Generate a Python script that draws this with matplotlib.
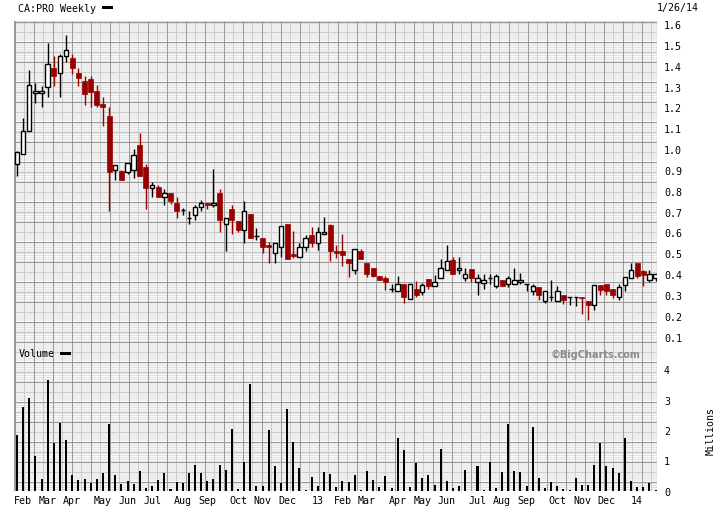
import numpy as np
import pandas as pd
import matplotlib
matplotlib.use("Agg")
import matplotlib.pyplot as plt
from matplotlib.patches import Rectangle

# ---------------- data ----------------
week_start = pd.date_range("2012-01-23", periods=105, freq="7D")

opens = [0.927, 0.975, 1.086, 1.268, 1.268, 1.296, 1.387, 1.363, 1.445, 1.435,
         1.364, 1.326, 1.336, 1.278, 1.215, 1.158, 0.900, 0.895, 0.890, 0.900,
         1.022, 0.916, 0.813, 0.816, 0.772, 0.791, 0.743, 0.708, 0.671, 0.685,
         0.724, 0.743, 0.733, 0.791, 0.642, 0.714, 0.654, 0.611, 0.687, 0.582,
         0.575, 0.542, 0.502, 0.531, 0.643, 0.499, 0.483, 0.531, 0.586, 0.550,
         0.594, 0.634, 0.513, 0.513, 0.475, 0.421, 0.513, 0.454, 0.432, 0.392,
         0.384, 0.331, 0.320, 0.355, 0.281, 0.331, 0.315, 0.379, 0.344, 0.382,
         0.421, 0.470, 0.421, 0.382, 0.427, 0.363, 0.358, 0.382, 0.342, 0.374,
         0.355, 0.355, 0.364, 0.355, 0.318, 0.339, 0.272, 0.292, 0.272, 0.300,
         0.292, 0.292, 0.292, 0.272, 0.253, 0.349, 0.353, 0.331, 0.291, 0.349,
         0.382, 0.454, 0.416, 0.373, 0.382]
highs = [0.990, 1.148, 1.379, 1.316, 1.305, 1.507, 1.445, 1.454, 1.547, 1.454,
         1.387, 1.351, 1.349, 1.307, 1.252, 1.204, 0.925, 0.900, 0.935, 1.002,
         1.076, 0.928, 0.842, 0.826, 0.807, 0.791, 0.772, 0.719, 0.704, 0.733,
         0.755, 0.743, 0.903, 0.807, 0.669, 0.733, 0.654, 0.752, 0.687, 0.623,
         0.575, 0.553, 0.550, 0.632, 0.643, 0.605, 0.552, 0.589, 0.624, 0.624,
         0.672, 0.643, 0.541, 0.594, 0.475, 0.522, 0.523, 0.454, 0.432, 0.392,
         0.392, 0.353, 0.392, 0.355, 0.353, 0.369, 0.356, 0.379, 0.397, 0.474,
         0.541, 0.483, 0.483, 0.430, 0.427, 0.403, 0.401, 0.401, 0.401, 0.374,
         0.393, 0.430, 0.406, 0.355, 0.355, 0.339, 0.320, 0.374, 0.345, 0.300,
         0.292, 0.292, 0.292, 0.272, 0.349, 0.349, 0.353, 0.331, 0.355, 0.387,
         0.454, 0.454, 0.422, 0.422, 0.401]
lows = [0.869, 0.975, 1.086, 1.220, 1.202, 1.250, 1.303, 1.250, 1.416, 1.361,
        1.303, 1.212, 1.202, 1.202, 1.111, 0.702, 0.851, 0.851, 0.880, 0.861,
        0.871, 0.714, 0.772, 0.770, 0.733, 0.739, 0.669, 0.683, 0.640, 0.659,
        0.704, 0.714, 0.724, 0.602, 0.510, 0.592, 0.602, 0.550, 0.573, 0.562,
        0.500, 0.452, 0.452, 0.481, 0.472, 0.480, 0.483, 0.510, 0.529, 0.518,
        0.594, 0.462, 0.478, 0.438, 0.385, 0.400, 0.474, 0.385, 0.385, 0.371,
        0.323, 0.316, 0.320, 0.260, 0.281, 0.292, 0.299, 0.329, 0.344, 0.382,
        0.421, 0.400, 0.400, 0.368, 0.361, 0.299, 0.329, 0.353, 0.334, 0.342,
        0.337, 0.355, 0.353, 0.318, 0.299, 0.278, 0.262, 0.272, 0.272, 0.255,
        0.250, 0.246, 0.209, 0.178, 0.228, 0.299, 0.299, 0.284, 0.275, 0.320,
        0.382, 0.382, 0.342, 0.363, 0.368]
closes = [0.985, 1.086, 1.307, 1.277, 1.277, 1.406, 1.351, 1.445, 1.474, 1.387,
          1.342, 1.265, 1.275, 1.211, 1.202, 0.890, 0.925, 0.851, 0.935, 0.974,
          0.871, 0.813, 0.826, 0.770, 0.791, 0.749, 0.702, 0.708, 0.671, 0.724,
          0.743, 0.731, 0.743, 0.659, 0.669, 0.659, 0.610, 0.704, 0.573, 0.582,
          0.529, 0.529, 0.550, 0.632, 0.472, 0.486, 0.531, 0.575, 0.549, 0.603,
          0.603, 0.510, 0.500, 0.491, 0.452, 0.522, 0.474, 0.401, 0.390, 0.371,
          0.363, 0.331, 0.353, 0.289, 0.353, 0.299, 0.349, 0.344, 0.363, 0.430,
          0.464, 0.400, 0.430, 0.401, 0.382, 0.382, 0.373, 0.382, 0.390, 0.342,
          0.382, 0.374, 0.374, 0.355, 0.344, 0.299, 0.320, 0.292, 0.320, 0.275,
          0.292, 0.292, 0.286, 0.253, 0.349, 0.325, 0.320, 0.299, 0.339, 0.387,
          0.421, 0.390, 0.398, 0.401, 0.401]
volumes = [1.84, 2.76, 3.06, 1.15, 0.39, 3.65, 1.57, 2.23, 1.67, 0.52,
           0.35, 0.39, 0.25, 0.39, 0.58, 2.20, 0.52, 0.22, 0.32, 0.22,
           0.65, 0.09, 0.15, 0.35, 0.58, 0.06, 0.29, 0.25, 0.58, 0.85,
           0.58, 0.32, 0.39, 0.85, 0.68, 2.04, 0.06, 0.95, 3.52, 0.15,
           0.15, 2.00, 0.82, 0.25, 2.70, 1.61, 0.75, 0.02, 0.45, 0.15,
           0.62, 0.55, 0.12, 0.32, 0.29, 0.52, 0.02, 0.65, 0.35, 0.12,
           0.48, 0.09, 1.74, 1.34, 0.12, 0.91, 0.42, 0.52, 0.19, 1.38,
           0.32, 0.09, 0.15, 0.68, 0.00, 0.83, 0.03, 0.96, 0.09, 0.63,
           2.20, 0.65, 0.63, 0.17, 2.10, 0.42, 0.09, 0.30, 0.17, 0.06,
           0.03, 0.42, 0.20, 0.20, 0.85, 1.57, 0.83, 0.75, 0.58, 1.74,
           0.32, 0.13, 0.13, 0.25, 0.03]
price_ticks = [0.1, 0.2, 0.3, 0.4, 0.5, 0.6, 0.7, 0.8, 0.9, 1.0,
               1.1, 1.2, 1.3, 1.4, 1.5, 1.6]
volume_ticks = [0, 1, 2, 3, 4]
title_text = "CA:PRO Weekly"
date_text = "1/26/14"

# ---------------- layout (pixels) ----------------
W, H = 720, 510
L, R, T, B = 14, 657, 22, 492
SPLIT = 342
RED = "#990000"
MONO = "DejaVu Sans Mono"
FS = 7.2

fig = plt.figure(figsize=(W / 100, H / 100), dpi=100)
fig.patch.set_facecolor("white")


def rect(l, t, r, b):
    return [l / W, 1 - b / H, (r - l) / W, (b - t) / H]


# background grid axis (pixel coordinates)
bg = fig.add_axes(rect(L, T, R, B))
bg.set_xlim(L, R)
bg.set_ylim(B, T)
bg.axis("off")
bg.add_patch(Rectangle((L, T), R - L, B - T, facecolor="#eeeeee",
                       edgecolor="none", zorder=0))
t0 = T + 20
while t0 < B:
    bot = min(t0 + 20, B)
    bg.add_patch(Rectangle((L, t0), R - L, bot - t0, facecolor="#fafafa",
                           edgecolor="none", zorder=0.5))
    ys = np.arange(t0 + 1.5, bot, 2.0)
    bg.hlines(ys, L, R, colors="#e2e2e2", linewidth=0.72, zorder=1)
    t0 += 40
for k in range(40):
    x = L + 19 * k
    if x < R:
        bg.vlines(x + 0.5, T, B, colors="#9a9a9a", linewidth=0.72, zorder=3)
    xl = L + 9.5 + 19 * k
    if xl < R:
        bg.vlines(int(xl) + 0.5, T, B, colors="#cccccc", linewidth=0.72, zorder=2)
for k in range(30):
    y = T + 20 * k
    if y < B:
        bg.hlines(y + 0.5, L, R, colors="#9a9a9a", linewidth=0.72, zorder=3)
    yl = T + 10 + 20 * k
    if yl < B:
        bg.hlines(yl + 0.5, L, R, colors="#cccccc", linewidth=0.72, zorder=2)
bg.vlines(L + 0.5, T, B, colors="#999999", linewidth=1.4, zorder=4)
bg.vlines(R - 0.5, T, B, colors="#bbbbbb", linewidth=0.9, zorder=4)
bg.hlines(T + 0.5, L, R, colors="#999999", linewidth=1.0, zorder=4)

# x mapping: index 0 at px 17, spacing 6.14 px
X0, DX = 17.0, 6.14
xlim = ((L - X0) / DX, (R - X0) / DX)
idx = np.arange(len(closes))

# ---------------- price axis ----------------
PY0, PPX = 25.0, 208.5  # px of 1.6, px per 1.0
ax = fig.add_axes(rect(L, T, R, SPLIT))
ax.set_facecolor("none")
ax.set_xlim(*xlim)
ax.set_ylim(1.6 - (SPLIT - PY0) / PPX, 1.6 + (PY0 - T) / PPX)
for s in ax.spines.values():
    s.set_visible(False)

o = np.array(opens); c = np.array(closes)
h = np.array(highs); lo = np.array(lows)
up = c > o + 0.003
dn = c < o - 0.003
dj = ~(up | dn)
bw = 0.72
ax.vlines(idx[up | dj], lo[up | dj], h[up | dj], colors="black", linewidth=1.0, zorder=3)
ax.vlines(idx[dn], lo[dn], h[dn], colors=RED, linewidth=1.0, zorder=3)
ax.bar(idx[up], (c - o)[up], bottom=o[up], width=bw, facecolor="white",
       edgecolor="black", linewidth=1.0, zorder=4)
ax.bar(idx[dn], (o - c)[dn], bottom=c[dn], width=bw + 0.1, facecolor=RED,
       edgecolor=RED, linewidth=0.5, zorder=4)
ax.hlines(c[dj], idx[dj] - bw / 2, idx[dj] + bw / 2, colors="black",
          linewidth=1.0, zorder=4)

ax.yaxis.tick_right()
ax.set_yticks(price_ticks)
ax.set_yticklabels([f"{v:.1f}" for v in price_ticks], fontfamily=MONO, fontsize=FS)
ax.tick_params(axis="y", length=0, pad=5)
ax.set_xticks([])

# ---------------- volume axis ----------------
VY0, VPX = 491.7, 30.3
av = fig.add_axes(rect(L, SPLIT, R, B))
av.set_facecolor("none")
av.set_xlim(*xlim)
av.set_ylim((VY0 - B) / VPX, (VY0 - SPLIT) / VPX)
for s in av.spines.values():
    s.set_visible(False)
av.bar(idx, volumes, width=0.33, color="black", zorder=4)
av.yaxis.tick_right()
av.set_yticks(volume_ticks)
av.set_yticklabels([str(v) for v in volume_ticks], fontfamily=MONO, fontsize=FS)
av.tick_params(axis="y", length=0, pad=5)

tick_pos, tick_lab = [], []
for i, d in enumerate(week_start):
    e = d + pd.Timedelta(days=6)
    if d.day == 1 or e.month != d.month:
        m = e
        tick_pos.append(i)
        tick_lab.append(m.strftime("%y") if m.month == 1 else m.strftime("%b"))
av.set_xticks(tick_pos)
av.set_xticklabels(tick_lab, fontfamily=MONO, fontsize=FS)
av.tick_params(axis="x", length=0, pad=3)

# ---------------- texts ----------------
def ftxt(px, py, s, **kw):
    fig.text(px / W, 1 - py / H, s, **kw)

ftxt(18, 8.5, title_text, fontfamily=MONO, fontsize=FS, va="center", ha="left")
fig.patches.append(Rectangle((102 / W, 1 - 9.5 / H), 11 / W, 3 / H,
                             transform=fig.transFigure, facecolor="black",
                             edgecolor="none"))
ftxt(657, 8.5, date_text, fontfamily=MONO, fontsize=FS, va="center", ha="left")
ftxt(18.5, 354.5, "Volume", fontfamily=MONO, fontsize=FS, va="center", ha="left")
fig.patches.append(Rectangle((60 / W, 1 - 355.5 / H), 11 / W, 3 / H,
                             transform=fig.transFigure, facecolor="black",
                             edgecolor="none"))
ftxt(640, 354.5, "\u00a9BigCharts.com", fontfamily="DejaVu Sans", fontweight="bold",
     fontsize=7, color="#8a8a8a", va="center", ha="right")
ftxt(711, 431, "Millions", fontfamily=MONO, fontsize=FS, va="center", ha="center",
     rotation=90)

fig.savefig("out.png", dpi=100, facecolor="white")
